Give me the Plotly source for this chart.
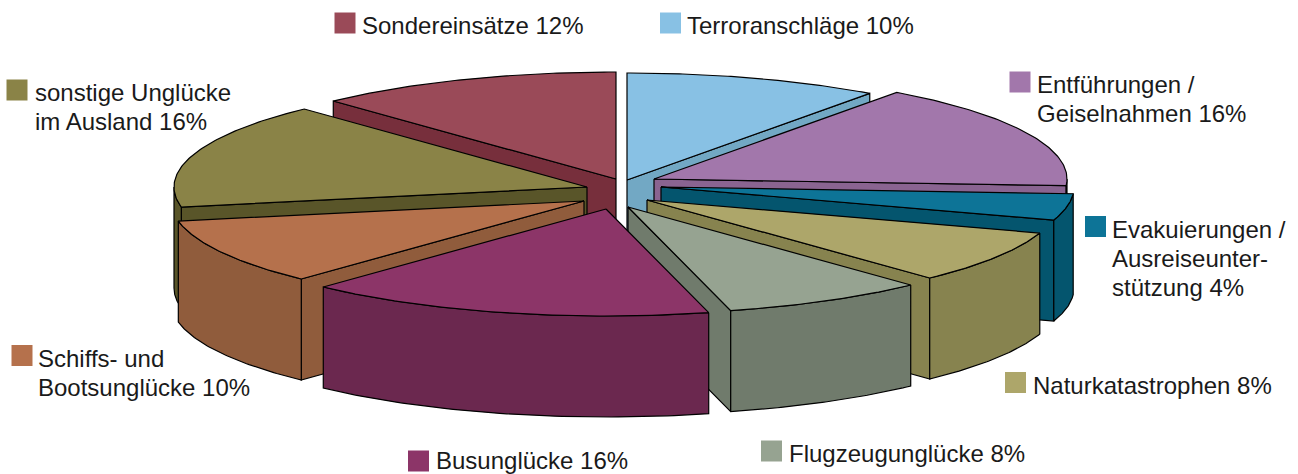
import numpy as np
import plotly.graph_objects as go

# data (clockwise from 12 o'clock)
categories = ["Terroranschläge", "Entführungen / Geiselnahmen", "Evakuierungen / Ausreiseunterstützung",
              "Naturkatastrophen", "Flugzeugunglücke", "Busunglücke", "Schiffs- und Bootsunglücke",
              "sonstige Unglücke im Ausland", "Sondereinsätze"]
values = [10, 16, 4, 8, 8, 16, 10, 16, 12]
labels = ["Terroranschläge 10%", "Entführungen /<br>Geiselnahmen 16%", "Evakuierungen /<br>Ausreiseunter-<br>stützung 4%",
          "Naturkatastrophen 8%", "Flugzeugunglücke 8%", "Busunglücke 16%", "Schiffs- und<br>Bootsunglücke 10%",
          "sonstige Unglücke<br>im Ausland 16%", "Sondereinsätze 12%"]

# style / layout
top_colors = ["#88C1E4", "#A277AB", "#0D7497", "#ADA66A", "#96A391", "#8C3568", "#B5714C", "#8A8347", "#9A4A58"]
wall_colors = ["#72A8C4", "#8A6491", "#04556E", "#87834F", "#707B6C", "#6B284F", "#905C3C", "#595529", "#772F3C"]
CX, CY, RX, RY, H = 622, 192, 413, 107, 101
explode_dx = [5, 32, 39, 25, 6, -16, -38, -35, -6]
explode_dy = [-12, -13, -5, 8, 15, 17, 9, -5, -13]
draw_order = [8, 0, 1, 7, 2, 6, 3, 4, 5]
swatch_x = [670.5, 1020, 1095.5, 1015.5, 771.5, 418.5, 22, 17, 345]
swatch_y = [23, 82, 226.5, 382.5, 451, 461, 355.5, 90, 23]
text_x = [686, 1036, 1111, 1032, 788, 435, 37, 34, 361]
text_y = [25, 84, 229, 385, 453, 460, 358, 92, 25]
LINE_STEP = 29
FONT = "Liberation Sans"

edges = np.concatenate([[0], np.cumsum(values)]) * 3.6
fig = go.Figure()


def poly(xs, ys, color):
    fig.add_trace(go.Scatter(x=xs, y=ys, mode="lines", fill="toself", fillcolor=color,
                             line=dict(color="#000000", width=1.2), hoverinfo="skip", showlegend=False))


def rim(a, ax, ay):
    t = np.radians(a)
    return ax + RX * np.sin(t), ay - RY * np.cos(t)


for i in draw_order:
    a0, a1 = edges[i], edges[i + 1]
    ax, ay = CX + explode_dx[i], CY + explode_dy[i]
    # visible straight cut walls
    for edge, visible in ((a0, np.sin(np.radians(a0)) < 0), (a1, np.sin(np.radians(a1)) > 0)):
        if visible:
            px, py = rim(edge, ax, ay)
            poly([ax, px, px, ax, ax], [ay, py, py + H, ay + H, ay], wall_colors[i])
    # visible outer wall
    lo, hi = max(a0, 90), min(a1, 270)
    if hi > lo:
        xs, ys = rim(np.linspace(lo, hi, 60), ax, ay)
        poly(list(xs) + list(xs[::-1]) + [xs[0]], list(ys) + list(ys[::-1] + H) + [ys[0]], wall_colors[i])
    # top face
    xs, ys = rim(np.linspace(a0, a1, 80), ax, ay)
    poly([ax] + list(xs) + [ax], [ay] + list(ys) + [ay], top_colors[i])

fig.add_trace(go.Scatter(x=swatch_x, y=swatch_y, mode="markers",
                         marker=dict(symbol="square", size=21, color=top_colors, line=dict(width=0)),
                         hoverinfo="skip", showlegend=False))

for t, x, y in zip(labels, text_x, text_y):
    for k, line in enumerate(t.split("<br>")):
        fig.add_annotation(x=x, y=y + k * LINE_STEP, text=line, showarrow=False, xanchor="left", yanchor="middle",
                           align="left", font=dict(family=FONT, size=24, color="#1a1a1a"), borderpad=0)

fig.update_layout(width=1298, height=474, margin=dict(l=0, r=0, t=0, b=0),
                  paper_bgcolor="white", plot_bgcolor="white",
                  xaxis=dict(range=[0, 1298], visible=False, fixedrange=True),
                  yaxis=dict(range=[474, 0], visible=False, fixedrange=True))
fig.write_html("out.html", config={"displayModeBar": False},
               post_script="document.body.style.margin='0';document.documentElement.style.overflow='hidden';")
